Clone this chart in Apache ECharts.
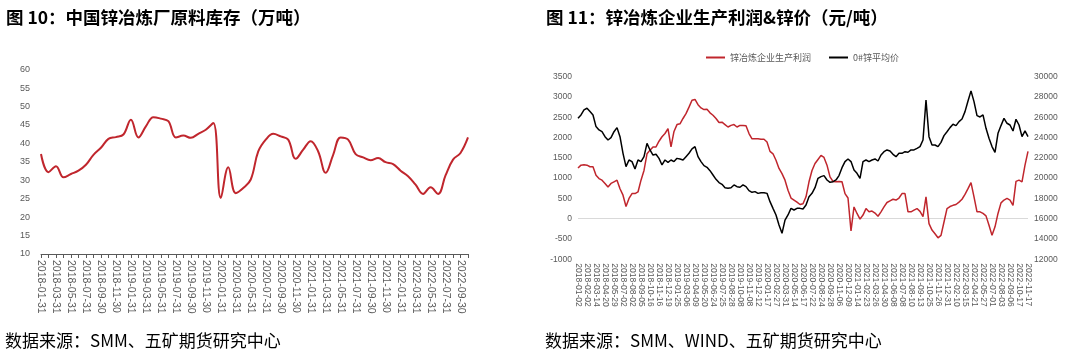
<!DOCTYPE html>
<html><head><meta charset="utf-8">
<script src="https://cdn.jsdelivr.net/npm/echarts@6/dist/echarts.min.js"></script>
<style>html,body{margin:0;padding:0;background:#fff}#c{width:1080px;height:360px}</style>
</head><body><div id="c"></div><script>
// ---------- Figure 10: monthly zinc smelter raw-material inventory (10k t) ----------
const months = [
 '2018-01-31','2018-02-28','2018-03-31','2018-04-30','2018-05-31','2018-06-30','2018-07-31','2018-08-31','2018-09-30','2018-10-31','2018-11-30','2018-12-31',
 '2019-01-31','2019-02-28','2019-03-31','2019-04-30','2019-05-31','2019-06-30','2019-07-31','2019-08-31','2019-09-30','2019-10-31','2019-11-30','2019-12-31',
 '2020-01-31','2020-02-29','2020-03-31','2020-04-30','2020-05-31','2020-06-30','2020-07-31','2020-08-31','2020-09-30','2020-10-31','2020-11-30','2020-12-31',
 '2021-01-31','2021-02-28','2021-03-31','2021-04-30','2021-05-31','2021-06-30','2021-07-31','2021-08-31','2021-09-30','2021-10-31','2021-11-30','2021-12-31',
 '2022-01-31','2022-02-28','2022-03-31','2022-04-30','2022-05-31','2022-06-30','2022-07-31','2022-08-31','2022-09-30','2022-10-31'
];
const inventory = [
 37.1,32.2,33.8,30.8,31.7,32.6,34.2,36.9,38.8,41.2,41.7,42.4,
 46.4,41.6,44.6,47.1,46.7,46.0,41.6,42.1,41.5,42.6,43.7,45.5,
 25.2,33.5,26.5,27.9,30.2,37.8,41.0,42.6,41.9,41.0,35.8,38.3,
 40.6,37.8,32.0,36.9,41.6,41.0,37.1,36.2,35.4,36.0,34.9,34.4,
 32.6,31.1,28.8,26.3,28.1,26.3,31.3,35.6,37.4,41.6
];

// ---------- Figure 11: smelter profit (left axis) & zinc price (right axis) ----------
// tick labels shown on the x axis (every 3rd sample)
const dateLabels = [
 '2018-01-02','2018-02-02','2018-03-14','2018-04-20','2018-05-29','2018-07-02','2018-08-02','2018-09-05','2018-10-16','2018-11-16','2018-12-19',
 '2019-01-25','2019-03-06','2019-04-09','2019-05-20','2019-06-24','2019-07-25','2019-08-28','2019-10-08','2019-11-08','2019-12-12',
 '2020-01-17','2020-02-27','2020-03-31','2020-05-14','2020-06-17','2020-07-22','2020-08-24','2020-09-28','2020-11-06','2020-12-09',
 '2021-01-14','2021-02-23','2021-03-26','2021-04-30','2021-06-08','2021-07-08','2021-08-10','2021-09-13','2021-10-25','2021-11-26','2021-12-31',
 '2022-02-10','2022-03-15','2022-04-21','2022-05-27','2022-07-01','2022-08-03','2022-09-06','2022-10-17','2022-11-17'
];
const profit = [
 1250,1320,1330,1320,1280,1280,1070,990,950,870,780,870,910,950,740,580,300,500,620,620,660,950,1190,1600,1690,1770,1770,1910,2020,2100,2220,1770,2150,2320,2340,2470,2590,2750,
 2920,2940,2810,2730,2690,2700,2610,2550,2470,2370,2380,2320,2260,2300,2320,2260,2300,2300,2290,2100,1970,1970,1970,1960,1960,1890,1660,1600,1440,1240,1110,950,700,510,460,410,350,
 370,540,910,1190,1360,1460,1560,1510,1320,1030,920,910,920,910,620,510,-300,290,130,-10,90,250,170,190,140,60,170,290,400,440,480,460,510,620,620,170,170,
 210,250,180,50,540,-120,-280,-370,-470,-410,-80,250,300,330,350,410,480,600,740,890,540,170,170,130,70,-160,-410,-200,130,390,460,500,460,330,920,950,910,1320,1660
];
const price = [
 25900,26230,26720,26890,26560,26230,25080,24750,24580,24090,23760,23990,24580,24980,24090,22450,21130,21790,21630,20900,21790,21630,22120,23430,22780,22280,22350,21950,21300,21790,21560,21790,21630,21950,21890,21790,22120,22450,
 22880,23100,22120,21630,21230,21070,20740,20310,19880,19560,19390,19060,19000,19060,19330,19160,19100,19330,19160,18770,18600,18670,18500,18570,18570,18500,17680,17020,16370,15380,14560,15870,16370,17020,16860,17020,17020,
 16960,17350,18170,18500,19060,19980,20150,20250,19820,19590,19650,19820,20250,21030,21630,21890,21630,20800,20480,19980,21630,21790,21630,21790,21890,21690,22280,22610,22780,22680,22350,22120,22450,22450,22610,22550,22780,
 22780,22940,23110,23760,27700,24090,23270,23270,23110,23530,24190,24580,24980,25310,25180,25570,25830,26560,27610,28600,27540,26160,26030,26230,24910,23930,23110,22550,24420,25180,25900,25410,25240,24650,25800,25240,24090,24650,24090
];
const sampleIdx = profit.map((_, i) => String(i));

const RED = '#c0262d';
const GREY = '#595959';
const FONT = "'Liberation Sans', 'Noto Sans CJK SC', sans-serif";
const CJK = "'Noto Sans CJK SC', sans-serif";
const plain = (v) => String(v);

const chart = echarts.init(document.getElementById('c'), null, {renderer: 'canvas'});
chart.setOption({
  animation: false,
  backgroundColor: '#fff',
  textStyle: {fontFamily: FONT},
  title: [
    {text: '图 10：中国锌冶炼厂原料库存（万吨）', left: 6, top: 9, padding: 0,
     textStyle: {fontSize: 17.5, fontWeight: 'bold', color: '#000', fontFamily: CJK}},
    {text: '图 11：锌冶炼企业生产利润&锌价（元/吨）', left: 546, top: 9, padding: 0,
     textStyle: {fontSize: 17.5, fontWeight: 'bold', color: '#000', fontFamily: CJK}},
    {text: '数据来源：SMM、五矿期货研究中心', left: 5, top: 332, padding: 0,
     textStyle: {fontSize: 17, fontWeight: 'normal', color: '#000', fontFamily: CJK}},
    {text: '数据来源：SMM、WIND、五矿期货研究中心', left: 545, top: 332, padding: 0,
     textStyle: {fontSize: 17, fontWeight: 'normal', color: '#000', fontFamily: CJK}}
  ],
  legend: {
    left: 706, top: 53, padding: 0, itemWidth: 19, itemHeight: 2, itemGap: 18, icon: 'rect',
    textStyle: {fontSize: 9, color: GREY, fontFamily: CJK},
    data: ['锌冶炼企业生产利润', '0#锌平均价']
  },
  grid: [
    {left: 41, top: 69.6, width: 427, height: 184.4, containLabel: false},
    {left: 578, top: 76.7, width: 450, height: 182.6, containLabel: false}
  ],
  xAxis: [
    {gridIndex: 0, type: 'category', data: months, boundaryGap: false,
     axisLine: {lineStyle: {color: GREY, width: 1}},
     axisTick: {show: true, interval: 0, length: 4, lineStyle: {color: GREY}},
     axisLabel: {interval: 1, rotate: -90, fontSize: 10.5, color: GREY, margin: 6}},
    {gridIndex: 1, type: 'category', data: sampleIdx, boundaryGap: false,
     axisLine: {show: false}, axisTick: {show: false},
     axisLabel: {interval: 2, rotate: -90, fontSize: 8.5, color: GREY, margin: 4,
       formatter: (v, i) => (i % 3 === 0 ? dateLabels[i / 3] : '')}}
  ],
  yAxis: [
    {gridIndex: 0, type: 'value', min: 10, max: 60, interval: 5,
     axisLine: {show: false}, axisTick: {show: false}, splitLine: {show: false},
     axisLabel: {fontSize: 9, color: GREY, margin: 11, formatter: plain}},
    {gridIndex: 1, type: 'value', position: 'left', min: -1000, max: 3500, interval: 500,
     axisLine: {show: false}, axisTick: {show: false}, splitLine: {show: false},
     axisLabel: {fontSize: 8.5, color: GREY, margin: 6, formatter: plain}},
    {gridIndex: 1, type: 'value', position: 'right', min: 12000, max: 30000, interval: 2000,
     axisLine: {show: false}, axisTick: {show: false}, splitLine: {show: false},
     axisLabel: {fontSize: 8.5, color: GREY, margin: 6, formatter: plain}}
  ],
  series: [
    {type: 'line', xAxisIndex: 0, yAxisIndex: 0, data: inventory, smooth: 0.4,
     showSymbol: false, lineStyle: {color: RED, width: 2}, itemStyle: {color: RED}},
    {name: '锌冶炼企业生产利润', type: 'line', xAxisIndex: 1, yAxisIndex: 1, data: profit,
     showSymbol: false, lineStyle: {color: RED, width: 1.5}, itemStyle: {color: RED},
     markLine: {silent: true, symbol: 'none', z: 1, label: {show: false},
       lineStyle: {color: '#d9d9d9', type: 'solid', width: 1},
       data: [{yAxis: 0}]}},
    {name: '0#锌平均价', type: 'line', xAxisIndex: 1, yAxisIndex: 2, data: price,
     showSymbol: false, lineStyle: {color: '#000', width: 1.5}, itemStyle: {color: '#000'}}
  ]
});
</script></body></html>
